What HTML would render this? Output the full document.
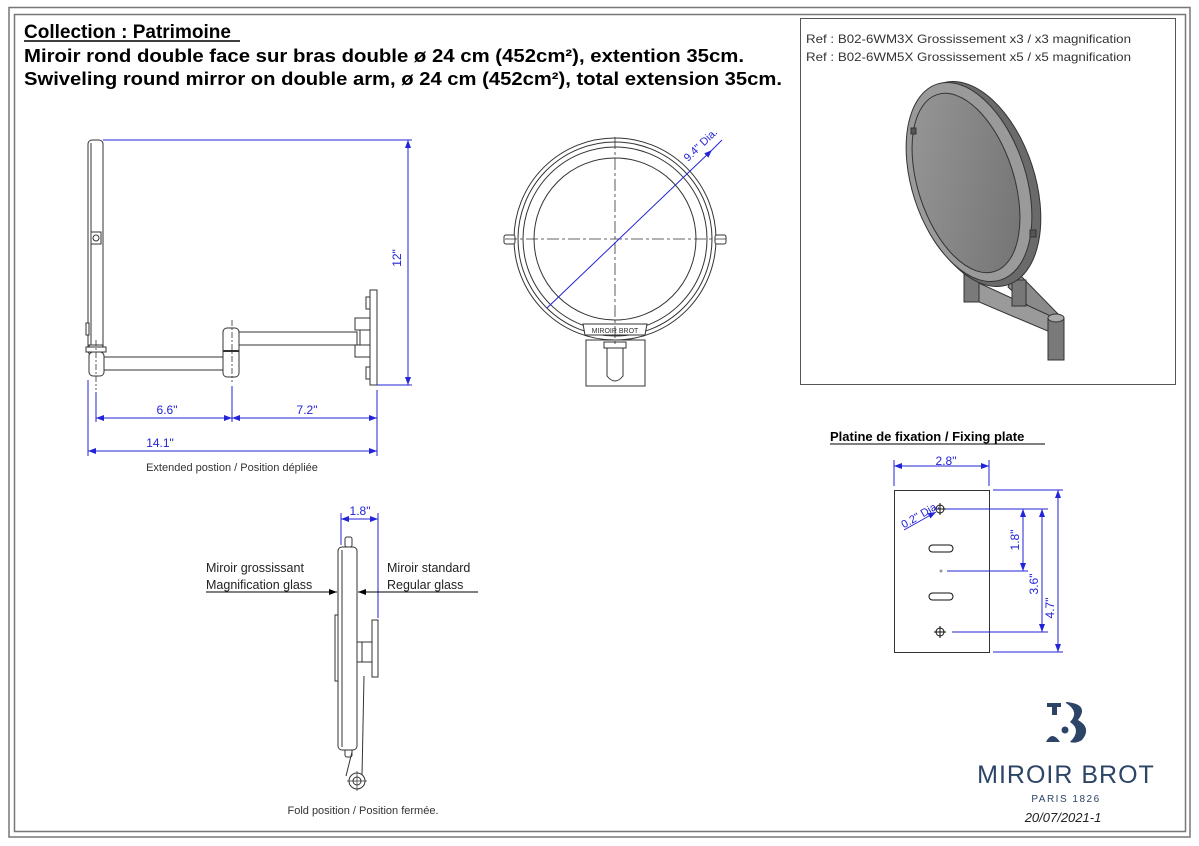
<!DOCTYPE html>
<html><head><meta charset="utf-8"><style>
html,body{margin:0;padding:0;background:#fff}
svg{display:block}
text{font-family:"Liberation Sans",sans-serif}
</style></head><body>
<svg width="1199" height="846" viewBox="0 0 1199 846" xmlns="http://www.w3.org/2000/svg">
<defs>
<marker id="a" markerWidth="8" markerHeight="6" refX="8" refY="3" orient="auto-start-reverse" markerUnits="userSpaceOnUse"><path d="M0,0 L8,3 L0,6 z" fill="#2323d8"/></marker>
<marker id="k" markerWidth="8" markerHeight="6" refX="8" refY="3" orient="auto" markerUnits="userSpaceOnUse"><path d="M0,0 L8,3 L0,6 z" fill="#000"/></marker>
<linearGradient id="g" x1="0" y1="0" x2="1" y2="1"><stop offset="0" stop-color="#9a9a9a"/><stop offset="1" stop-color="#707070"/></linearGradient>
</defs>
<rect x="9" y="7.5" width="1181" height="829.5" fill="none" stroke="#777" stroke-width="1.5"/>
<rect x="14.5" y="14.5" width="1171" height="817" fill="none" stroke="#777" stroke-width="1.5"/>

<text x="24" y="38" font-size="19" font-weight="bold">Collection : Patrimoine</text>
<line x1="24" y1="41" x2="240" y2="41" stroke="#000" stroke-width="1.5"/>
<text x="24" y="62" font-size="18" font-weight="bold" textLength="720" lengthAdjust="spacingAndGlyphs">Miroir rond double face sur bras double ø 24 cm (452cm²), extention 35cm.</text>
<text x="24" y="85" font-size="18" font-weight="bold" textLength="758" lengthAdjust="spacingAndGlyphs">Swiveling round mirror on double arm, ø 24 cm (452cm²), total extension 35cm.</text>

<g fill="#fff" stroke="#333" stroke-width="1">
<rect x="88" y="140" width="15" height="215" rx="4"/>
<line x1="91" y1="143" x2="91" y2="352"/>
<rect x="91" y="232" width="10" height="12" fill="#fff"/><circle cx="96" cy="238" r="3"/>
<rect x="86" y="323" width="3" height="12"/>
<path d="M91,355 L101,355 L103,345 L89,345 z"/>
<rect x="86" y="347" width="20" height="5"/>
<rect x="89" y="352" width="15" height="24" rx="4"/>
<rect x="104" y="357" width="120" height="13"/>
<rect x="223" y="328" width="16" height="49" rx="4"/>
<line x1="223" y1="351" x2="239" y2="351" stroke-width="2"/>
<rect x="239" y="332" width="118" height="13"/>
<rect x="355" y="318" width="15" height="12"/><rect x="355" y="345" width="15" height="12"/>
<rect x="360" y="330" width="10" height="15"/>
<rect x="370" y="290" width="7" height="95"/>
<rect x="366" y="297" width="4" height="12"/><rect x="366" y="367" width="4" height="12"/>
</g>
<g stroke="#333" stroke-width="0.8" stroke-dasharray="6,2,2,2"><line x1="96" y1="340" x2="96" y2="390"/><line x1="232" y1="320" x2="232" y2="382"/></g>
<g stroke="#2323d8" stroke-width="1" fill="none">
<line x1="103" y1="140" x2="412" y2="140"/><line x1="377" y1="385" x2="412" y2="385"/>
<line x1="408" y1="140" x2="408" y2="385" marker-start="url(#a)" marker-end="url(#a)"/>
<line x1="96" y1="392" x2="96" y2="422"/><line x1="232" y1="386" x2="232" y2="422"/>
<line x1="377" y1="390" x2="377" y2="456"/><line x1="88" y1="380" x2="88" y2="456"/>
<line x1="96" y1="418" x2="232" y2="418" marker-start="url(#a)" marker-end="url(#a)"/>
<line x1="232" y1="418" x2="377" y2="418" marker-start="url(#a)" marker-end="url(#a)"/>
<line x1="88" y1="451" x2="377" y2="451" marker-start="url(#a)" marker-end="url(#a)"/>
</g>
<g fill="#2323d8" font-size="12" text-anchor="middle">
<text x="167" y="414">6.6"</text><text x="307" y="414">7.2"</text><text x="160" y="447">14.1"</text>
<text x="0" y="0" transform="translate(401,258) rotate(-90)">12"</text>
</g>
<text x="232" y="471" font-size="11" text-anchor="middle" fill="#333">Extended postion / Position dépliée</text>

<g fill="none" stroke="#333" stroke-width="1">
<rect x="586" y="340" width="59" height="46" fill="#fff"/>
<circle cx="615" cy="239" r="101" fill="#fff"/>
<circle cx="615" cy="239" r="97"/><circle cx="615" cy="239" r="92"/><circle cx="615" cy="239" r="81"/>
<rect x="504" y="235" width="11" height="9" rx="2" fill="#fff"/><rect x="715" y="235" width="11" height="9" rx="2" fill="#fff"/>
<path d="M583,324 L647,324 L645,335 L585,335 z" fill="#fff"/>
<rect x="604" y="342" width="22" height="6" fill="#fff"/>
<path d="M607,348 L607,376 Q615,386 623,376 L623,348 z" fill="#fff"/>
</g>
<text x="615" y="333" font-size="7" text-anchor="middle" fill="#333">MIROIR BROT</text>
<g stroke="#333" stroke-width="0.8" stroke-dasharray="12,3,3,3"><line x1="615" y1="137" x2="615" y2="345"/><line x1="505" y1="239" x2="726" y2="239"/></g>
<line x1="547" y1="308" x2="712" y2="150" stroke="#2323d8" stroke-width="1" marker-end="url(#a)"/>
<line x1="712" y1="150" x2="722" y2="140" stroke="#2323d8" stroke-width="1"/>
<text x="0" y="0" transform="translate(688,162) rotate(-44)" font-size="11" fill="#2323d8">9.4" Dia.</text>

<g fill="#fff" stroke="#333" stroke-width="1">
<rect x="345" y="537" width="7" height="10" rx="2"/>
<rect x="345" y="744" width="7" height="13" rx="2"/>
<rect x="338" y="547" width="19" height="203" rx="4"/>
<line x1="342" y1="550" x2="342" y2="747"/>
<rect x="335" y="615" width="3" height="66"/>
<path d="M357,642 L362,642 Q368,652 362,662 L357,662 z"/>
<rect x="362" y="642" width="10" height="20"/>
<rect x="372" y="620" width="6" height="57"/>
<path d="M352,752 L346,776 M364,676 L362,776" fill="none"/>
<circle cx="357" cy="781" r="8"/><circle cx="357" cy="781" r="4"/>
</g>
<g stroke="#333" stroke-width="0.7"><line x1="347" y1="781" x2="367" y2="781"/><line x1="357" y1="771" x2="357" y2="791"/></g>
<g stroke="#2323d8" fill="none"><line x1="341" y1="513" x2="341" y2="545"/><line x1="378" y1="513" x2="378" y2="618"/>
<line x1="341" y1="519" x2="378" y2="519" marker-start="url(#a)" marker-end="url(#a)"/></g>
<text x="360" y="515" font-size="12" fill="#2323d8" text-anchor="middle">1.8"</text>
<g font-size="12.5" fill="#222">
<text x="206" y="572">Miroir grossissant</text><text x="206" y="589">Magnification glass</text>
<text x="387" y="572">Miroir standard</text><text x="387" y="589">Regular glass</text>
</g>
<line x1="206" y1="592" x2="337" y2="592" stroke="#000" marker-end="url(#k)"/>
<line x1="478" y1="592" x2="358" y2="592" stroke="#000" marker-end="url(#k)"/>
<text x="363" y="814" font-size="11" text-anchor="middle" fill="#333">Fold position / Position fermée.</text>

<rect x="800.5" y="18.5" width="375" height="366" fill="none" stroke="#555" stroke-width="1"/>
<text x="806" y="43" font-size="12" fill="#333" textLength="325" lengthAdjust="spacingAndGlyphs">Ref : B02-6WM3X Grossissement x3 / x3 magnification</text>
<text x="806" y="61" font-size="12" fill="#333" textLength="325" lengthAdjust="spacingAndGlyphs">Ref : B02-6WM5X Grossissement x5 / x5 magnification</text>
<g stroke="#333" stroke-width="1">
<path d="M1015,270 L1062,318 L1054,330 L1008,287 z" fill="#8a8a8a"/>
<path d="M968,278 L1055,318 L1050,332 L965,296 z" fill="#9a9a9a"/>
<rect x="964" y="272" width="15" height="30" fill="#7a7a7a"/>
<ellipse cx="971" cy="272" rx="8" ry="4" fill="#999"/>
<rect x="1048" y="318" width="16" height="42" fill="#7a7a7a"/>
<ellipse cx="1056" cy="318" rx="8" ry="4" fill="#aaa"/>
<rect x="1012" y="280" width="14" height="26" fill="#777"/>
<ellipse cx="975" cy="184" rx="60" ry="106" transform="rotate(-18 975 184)" fill="#6a6a6a"/>
<ellipse cx="969" cy="182" rx="57" ry="103" transform="rotate(-18 969 182)" fill="#9a9a9a"/>
<ellipse cx="966" cy="183" rx="48" ry="93" transform="rotate(-18 966 183)" fill="url(#g)"/>
<rect x="911" y="128" width="5" height="6" fill="#555"/><rect x="1030" y="230" width="6" height="7" fill="#555"/>
</g>

<text x="830" y="441" font-size="13" font-weight="bold" fill="#000">Platine de fixation / Fixing plate</text>
<line x1="830" y1="444" x2="1045" y2="444" stroke="#000"/>
<rect x="894.5" y="490.5" width="95" height="162" fill="#fff" stroke="#333"/>
<g stroke="#111" fill="none">
<circle cx="940" cy="509" r="4"/><line x1="934" y1="509" x2="946" y2="509"/><line x1="940" y1="503" x2="940" y2="515"/>
<circle cx="940" cy="632" r="4"/><line x1="934" y1="632" x2="946" y2="632"/><line x1="940" y1="626" x2="940" y2="638"/>
<rect x="929" y="545" width="24" height="7" rx="3.5"/><rect x="929" y="593" width="24" height="7" rx="3.5"/>
</g>
<circle cx="941" cy="571" r="1.5" fill="#999"/>
<g stroke="#2323d8" fill="none">
<line x1="894" y1="460" x2="894" y2="486"/><line x1="989" y1="460" x2="989" y2="486"/>
<line x1="894" y1="466" x2="989" y2="466" marker-start="url(#a)" marker-end="url(#a)"/>
<line x1="946" y1="509" x2="1048" y2="509"/><line x1="947" y1="571" x2="1028" y2="571"/><line x1="952" y1="632" x2="1048" y2="632"/>
<line x1="993" y1="490" x2="1063" y2="490"/><line x1="993" y1="652" x2="1063" y2="652"/>
<line x1="1023" y1="509" x2="1023" y2="571" marker-start="url(#a)" marker-end="url(#a)"/>
<line x1="1042" y1="509" x2="1042" y2="632" marker-start="url(#a)" marker-end="url(#a)"/>
<line x1="1058" y1="490" x2="1058" y2="652" marker-start="url(#a)" marker-end="url(#a)"/>
<line x1="904" y1="530" x2="936" y2="512" marker-end="url(#a)"/>
</g>
<g fill="#2323d8" font-size="12" text-anchor="middle">
<text x="946" y="465">2.8"</text>
<text transform="translate(1019,540) rotate(-90)">1.8"</text>
<text transform="translate(1038,584) rotate(-90)">3.6"</text>
<text transform="translate(1054,608) rotate(-90)">4.7"</text>
<text transform="translate(922,518) rotate(-30)" font-size="11">0.2" Dia.</text>
</g>

<g fill="#2c4466">
<rect x="1047" y="703" width="14" height="4"/><rect x="1052" y="703" width="5" height="12"/>
<path d="M1066,702 Q1090,704 1078,720 Q1092,728 1082,740 Q1076,744 1070,742 Q1082,730 1070,722 Q1080,712 1066,703 z"/>
<circle cx="1065" cy="730" r="3.5"/>
<path d="M1046,742 Q1052,730 1060,742 z"/>
</g>
<text x="1066" y="783" font-size="25" fill="#2c4466" text-anchor="middle" letter-spacing="1">MIROIR BROT</text>
<text x="1066" y="802" font-size="10" fill="#2c4466" text-anchor="middle" letter-spacing="1.5">PARIS 1826</text>
<text x="1063" y="822" font-size="13" font-style="italic" fill="#222" text-anchor="middle">20/07/2021-1</text>
</svg>
</body></html>
